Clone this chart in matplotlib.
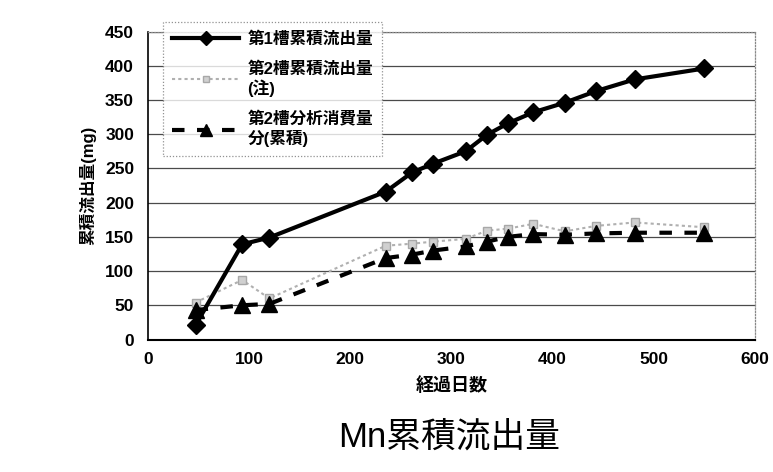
import matplotlib
matplotlib.use("Agg")
import matplotlib.pyplot as plt
from matplotlib.lines import Line2D

plt.rcParams['font.family'] = ['Liberation Sans', 'Noto Sans CJK JP', 'DejaVu Sans']

days = [47, 93, 120, 235, 261, 282, 314, 335, 356, 381, 412, 443, 481, 550]
tank1_cum = [21, 139, 149, 216, 244, 257, 275, 299, 316, 332, 346, 363, 380, 396]
tank2_cum = [54, 87, 60, 137, 140, 143, 147, 159, 162, 169, 158, 166, 171, 164]
tank2_analysis = [43, 50, 52, 119, 124, 130, 136, 143, 150, 154, 153, 155, 156, 156]

labels = ['第1槽累積流出量', '第2槽累積流出量\n(注)', '第2槽分析消費量\n分(累積)']
xticks = [0, 100, 200, 300, 400, 500, 600]
yticks = [0, 50, 100, 150, 200, 250, 300, 350, 400, 450]

fig = plt.figure(figsize=(7.73, 4.72), dpi=100)
ax = fig.add_axes([148/773, 1-339.5/472, (755-148)/773, (339.5-31.5)/472])

ax.plot(days, tank2_cum, color='#b0b0b0', linestyle=(0, (1.5, 1.5)), linewidth=1.5,
        marker='s', markersize=6, markerfacecolor='#d0d0d0', markeredgecolor='#a8a8a8',
        zorder=2)
ax.plot(days, tank2_analysis, color='black', linestyle=(0, (3, 3)), linewidth=3,
        marker='^', markersize=11, markerfacecolor='black', markeredgecolor='black',
        zorder=3)
ax.plot(days, tank1_cum, color='black', linestyle='-', linewidth=3,
        marker='D', markersize=9, markerfacecolor='black', markeredgecolor='black',
        zorder=4)

ax.set_xlim(0, 600)
ax.set_ylim(0, 450)
ax.set_xticks(xticks)
ax.set_yticks(yticks)
ax.set_xticklabels([str(v) for v in xticks], fontsize=12.5, fontweight='bold')
ax.set_yticklabels([str(v) for v in yticks], fontsize=12.5, fontweight='bold')
ax.tick_params(axis='both', length=0)
ax.tick_params(axis='y', pad=10)
ax.tick_params(axis='x', pad=9)

for y in yticks[1:]:
    ax.axhline(y, color='#4a4a4a', linewidth=0.9, zorder=1)

ax.spines['left'].set_color('black')
ax.spines['left'].set_linewidth(1.2)
ax.spines['bottom'].set_color('black')
ax.spines['bottom'].set_linewidth(1.5)
for s in ['top', 'right']:
    ax.spines[s].set_color('#888888')
    ax.spines[s].set_linestyle((0, (1, 1.5)))
    ax.spines[s].set_linewidth(0.9)

ax.set_xlabel('経過日数', fontsize=13, fontweight='bold', labelpad=7)
ax.set_ylabel('累積流出量(mg)', fontsize=12, fontweight='bold', labelpad=6)

handles = [
    Line2D([], [], color='black', linewidth=3, marker='D', markersize=7),
    Line2D([], [], color='#b0b0b0', linestyle=(0, (1.5, 1.5)), linewidth=1.5,
           marker='s', markersize=5, markerfacecolor='#d0d0d0', markeredgecolor='#a8a8a8'),
    Line2D([], [], color='black', linestyle=(0, (3, 3)), linewidth=3,
           marker='^', markersize=9),
]
leg = ax.legend(handles, labels, loc='upper left', bbox_to_anchor=(0.025, 1.03),
                borderaxespad=0, frameon=True, fancybox=False, handlelength=4.0,
                labelspacing=0.85, borderpad=0.55, handletextpad=0.5,
                prop={'weight': 'bold', 'size': 12})
leg.get_frame().set_edgecolor('#777777')
leg.get_frame().set_linestyle((0, (1, 1.5)))
leg.get_frame().set_linewidth(0.9)
leg.set_zorder(5)

fig.text(449/773, 1-437/472, 'Mn累積流出量', ha='center', va='center', fontsize=25)

fig.savefig('out.png', dpi=100)
